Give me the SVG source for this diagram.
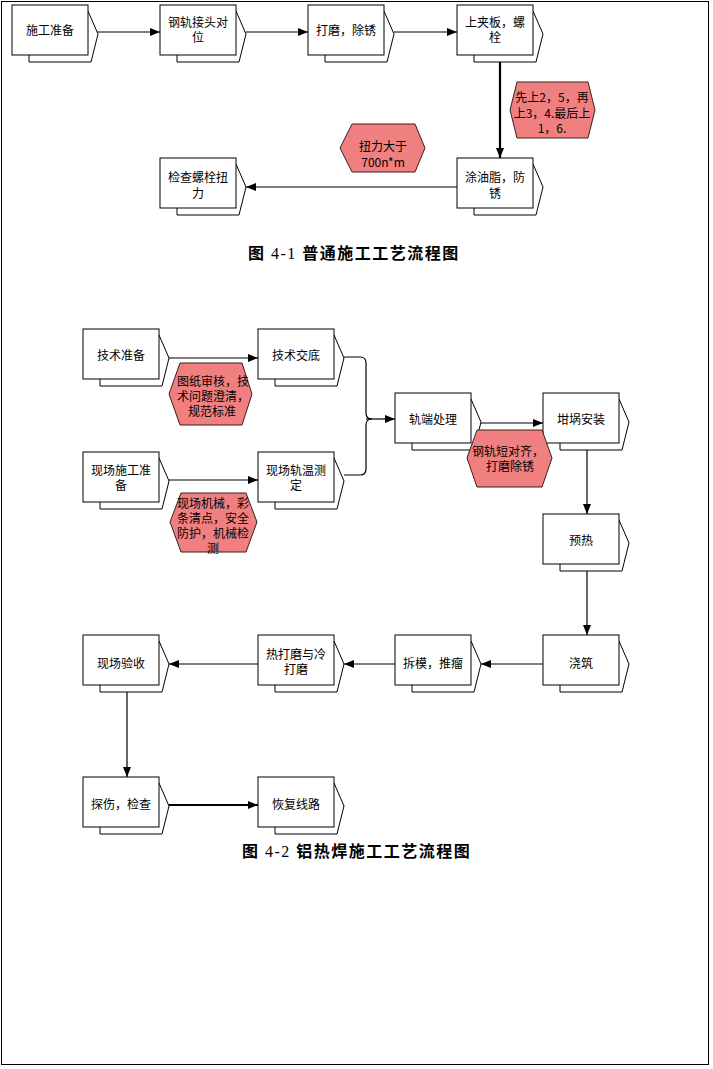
<svg xmlns="http://www.w3.org/2000/svg" xmlns:xlink="http://www.w3.org/1999/xlink" width="713" height="1069" viewBox="0 0 713 1069">
<style>
.bk{fill:#fff;stroke:#000;stroke-width:1}
.fr{fill:#fff;stroke:#000;stroke-width:1}
.t{font-family:"Noto Sans CJK SC","Noto Sans",sans-serif;font-size:12px;fill:#000;text-anchor:middle;dominant-baseline:central}
.hx{fill:#f08080;stroke:#3a1e1e;stroke-width:1}
.ln{fill:none;stroke:#000;stroke-width:1.2}
.th{stroke-width:2.2}
.cap{font-family:"Noto Sans CJK SC",sans-serif;font-size:16px;font-weight:700;fill:#000;letter-spacing:1.5px}
.num{font-family:"Liberation Serif",serif;font-weight:400}
</style>
<defs>
<g id="nd">
<polygon class="bk" points="17,40 17,57 79,57 86,29 76,6 60,6"/>
<rect class="fr" x="0" y="0" width="76" height="50"/>
</g>
<marker id="ah" markerUnits="userSpaceOnUse" markerWidth="10" markerHeight="8" refX="10" refY="4" orient="auto">
<path d="M0,0 L10,4 L0,8 z" fill="#000"/>
</marker>
</defs>
<rect x="1.5" y="1.5" width="707" height="1063" fill="none" stroke="#000" stroke-width="1"/>

<g id="connectors">
<path class="ln" d="M97,32 H160" marker-end="url(#ah)"/>
<path class="ln" d="M246,32 H308" marker-end="url(#ah)"/>
<path class="ln" d="M394,32 H457" marker-end="url(#ah)"/>
<path class="ln th" d="M500,62 V158" marker-end="url(#ah)"/>
<path class="ln" d="M457,187 H246" marker-end="url(#ah)"/>
<path class="ln" d="M169,358 H258" marker-end="url(#ah)"/>
<path class="ln" d="M169,480 H258" marker-end="url(#ah)"/>
<path class="ln" d="M344,357 H360 Q366,357 366,363 V413 Q366,419 372,419 M344,475 H360 Q366,475 366,469 V425 Q366,419 372,419"/>
<path class="ln" d="M366,419 H395" marker-end="url(#ah)"/>
<path class="ln" d="M481,423 H543" marker-end="url(#ah)"/>
<path class="ln" d="M587,450 V514" marker-end="url(#ah)"/>
<path class="ln" d="M587,571 V635" marker-end="url(#ah)"/>
<path class="ln" d="M543,664 H481" marker-end="url(#ah)"/>
<path class="ln" d="M395,664 H344" marker-end="url(#ah)"/>
<path class="ln" d="M258,664 H169" marker-end="url(#ah)"/>
<path class="ln" d="M127,692 V777" marker-end="url(#ah)"/>
<path class="ln th" d="M169,805 H258" marker-end="url(#ah)"/>
</g>

<g id="n1" transform="translate(12,5)"><use xlink:href="#nd"/><text class="t" x="38" y="24">施工准备</text></g>
<g id="n2" transform="translate(160,5)"><use xlink:href="#nd"/><text class="t" x="38" y="16">钢轨接头对</text><text class="t" x="38" y="31">位</text></g>
<g id="n3" transform="translate(308,5)"><use xlink:href="#nd"/><text class="t" x="38" y="24">打磨，除锈</text></g>
<g id="n4" transform="translate(457,5)"><use xlink:href="#nd"/><text class="t" x="38" y="16">上夹板，螺</text><text class="t" x="38" y="31">栓</text></g>
<g id="n5" transform="translate(457,158)"><use xlink:href="#nd"/><text class="t" x="38" y="18">涂油脂，防</text><text class="t" x="38" y="34">锈</text></g>
<g id="n6" transform="translate(160,158)"><use xlink:href="#nd"/><text class="t" x="38" y="18">检查螺栓扭</text><text class="t" x="38" y="34">力</text></g>

<g id="h1"><polygon class="hx" points="510,110 517,82 588,82 595,110 588,138 517,138"/>
<text class="t" x="552" y="96">先上2，5，再</text><text class="t" x="552" y="112">上3，4.最后上</text><text class="t" x="552" y="127">1，6.</text></g>
<g id="h2"><polygon class="hx" points="340,148 352,124 415,124 425,148 415,172 352,172"/>
<text class="t" x="383" y="145">扭力大于</text><text class="t" x="383" y="161">700n*m</text></g>

<text class="cap" x="248" y="259">图<tspan class="num"> 4-1 </tspan>普通施工工艺流程图</text>

<g id="m1" transform="translate(83,329)"><use xlink:href="#nd"/><text class="t" x="38" y="25">技术准备</text></g>
<g id="m2" transform="translate(258,329)"><use xlink:href="#nd"/><text class="t" x="38" y="25">技术交底</text></g>
<g id="m3" transform="translate(83,452)"><use xlink:href="#nd"/><text class="t" x="38" y="17">现场施工准</text><text class="t" x="38" y="32">备</text></g>
<g id="m4" transform="translate(258,452)"><use xlink:href="#nd"/><text class="t" x="38" y="17">现场轨温测</text><text class="t" x="38" y="32">定</text></g>
<g id="m5" transform="translate(395,393)"><use xlink:href="#nd"/><text class="t" x="38" y="25">轨端处理</text></g>
<g id="m6" transform="translate(543,393)"><use xlink:href="#nd"/><text class="t" x="38" y="25">坩埚安装</text></g>
<g id="m7" transform="translate(543,514)"><use xlink:href="#nd"/><text class="t" x="38" y="25">预热</text></g>
<g id="m8" transform="translate(543,635)"><use xlink:href="#nd"/><text class="t" x="38" y="27">浇筑</text></g>
<g id="m9" transform="translate(395,635)"><use xlink:href="#nd"/><text class="t" x="38" y="27">拆模，推瘤</text></g>
<g id="m10" transform="translate(258,635)"><use xlink:href="#nd"/><text class="t" x="38" y="18">热打磨与冷</text><text class="t" x="38" y="33">打磨</text></g>
<g id="m11" transform="translate(83,635)"><use xlink:href="#nd"/><text class="t" x="38" y="27">现场验收</text></g>
<g id="m12" transform="translate(83,777)"><use xlink:href="#nd"/><text class="t" x="38" y="26">探伤，检查</text></g>
<g id="m13" transform="translate(258,777)"><use xlink:href="#nd"/><text class="t" x="38" y="26">恢复线路</text></g>

<g id="h3"><polygon class="hx" points="169,394 180,363 242,363 252,394 242,425 180,425"/>
<text class="t" x="213" y="380">图纸审核，技</text><text class="t" x="213" y="395">术问题澄清，</text><text class="t" x="212" y="410">规范标准</text></g>
<g id="h4"><polygon class="hx" points="170,522 181,493 246,493 257,522 246,552 181,552"/>
<text class="t" x="213" y="502">现场机械，彩</text><text class="t" x="213" y="517">条清点，安全</text><text class="t" x="213" y="532">防护，机械检</text><text class="t" x="213" y="547">测</text></g>
<g id="h5"><polygon class="hx" points="467,458 477,430 542,430 552,458 542,487 477,487"/>
<text class="t" x="508" y="450">钢轨短对齐，</text><text class="t" x="510" y="465">打磨除锈</text></g>

<text class="cap" x="242" y="857">图<tspan class="num"> 4-2 </tspan>铝热焊施工工艺流程图</text>
</svg>
